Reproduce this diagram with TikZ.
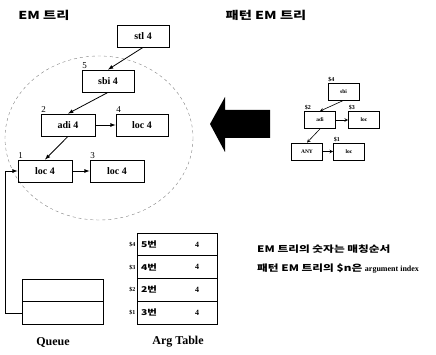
\documentclass[tikz,border=0pt]{standalone}
\usepackage{fontspec}
\setmainfont{Liberation Serif}
\newfontfamily\kr[FakeStretch=1.3]{Noto Sans CJK KR}
\usetikzlibrary{positioning}

\begin{document}
\begin{tikzpicture}[x=1pt,y=-1pt,
  emnode/.style={draw,thick,minimum width=52pt,minimum height=22pt,inner sep=0pt,font=\bfseries\fontsize{10}{10}\selectfont},
  patnode/.style={draw,thick,minimum width=31pt,minimum height=17pt,inner sep=0pt,font=\bfseries\fontsize{5.5}{5.5}\selectfont},
  rownode/.style={draw,thick,minimum width=80pt,minimum height=22.75pt,inner sep=0pt},
  order/.style={anchor=south west,inner sep=0.5pt,font=\fontsize{9}{9}\selectfont},
  argidx/.style={anchor=east,inner sep=1pt,font=\bfseries\fontsize{6}{6}\selectfont},
  link/.style={->,>=latex,thick}]
\useasboundingbox (0,0) rectangle (436,355);

% headers
\node[font=\kr\bfseries\fontsize{11}{11}\selectfont] (title1) at (44,15) {EM 트리};
\node[font=\kr\bfseries\fontsize{11}{11}\selectfont] (title2) at (266,15) {패턴 EM 트리};

% EM tree
\draw[dashed,gray,thin] (99,138) ellipse (94 and 82);
\node[emnode] (stl) at (143,36) {stl 4};
\node[emnode] (sbi) at (108,81) {sbi 4};
\node[emnode,minimum width=54pt] (adi) at (68,125) {adi 4};
\node[emnode] (loc4) at (142,125) {loc 4};
\node[emnode,minimum width=54pt] (loc1) at (45,171) {loc 4};
\node[emnode,minimum width=54pt] (loc3) at (117,171) {loc 4};
\node[order] at (sbi.north west) {5};
\node[order] at (adi.north west) {2};
\node[order] at (loc4.north west) {4};
\node[order] at (loc1.north west) {1};
\node[order] at (loc3.north west) {3};
\draw[link] (stl.south) -- (sbi.north);
\draw[link] (sbi.south) -- (adi.north);
\draw[link] (adi.south) -- (loc1.north);
\draw[link] (adi) -- (loc4);
\draw[link] (loc1) -- (loc3);

% big arrow
\fill (210,124) -- (225,97) -- (225,110) -- (270,110) -- (270,138) -- (225,138) -- (225,152) -- cycle;

% pattern EM tree
\node[patnode] (psbi) at (343.5,91.5) {sbi};
\node[patnode] (padi) at (320,120) {adi};
\node[patnode] (ploc3) at (364,120) {loc};
\node[patnode] (pany) at (307,151.5) {ANY};
\node[patnode] (ploc1) at (349,151.5) {loc};
\node[order,font=\bfseries\fontsize{6}{6}\selectfont] at (psbi.north west) {\$4};
\node[order,font=\bfseries\fontsize{6}{6}\selectfont] at (padi.north west) {\$2};
\node[order,font=\bfseries\fontsize{6}{6}\selectfont] at (ploc3.north west) {\$3};
\node[order,font=\bfseries\fontsize{6}{6}\selectfont] at (ploc1.north west) {\$1};
\draw[link,>=stealth,semithick] (psbi.south) -- (padi.north);
\draw[link,>=stealth,semithick] (padi.south) -- (pany.north);
\draw[link,>=stealth,semithick] (padi) -- (ploc3);
\draw[link,>=stealth,semithick] (pany) -- (ploc1);

% notes
\node[anchor=west,inner sep=0pt,font=\kr\bfseries\fontsize{9}{9}\selectfont] (note1) at (257,249) {EM 트리의 숫자는 매칭순서};
\node[anchor=west,inner sep=0pt,font=\kr\bfseries\fontsize{9}{9}\selectfont] (note2) at (257,269) {패턴 EM 트리의 \$n은 {\rmfamily\bfseries\fontsize{8}{8}\selectfont argument index}};

% queue
\node[rownode,minimum width=81pt] (q1) at (62.5,290.5) {};
\node[rownode,minimum width=81pt] (q2) at (62.5,313.25) {};
\draw[link] (q2.west) -- ++(-16,0) |- (loc1.west);
\node[font=\bfseries\fontsize{12}{12}\selectfont] (qlabel) at (53,342) {Queue};

% arg table
\foreach \i/\num/\y in {4/5/244.4,3/4/267.1,2/2/289.9,1/3/312.6}{
  \node[rownode] (arg\i) at (177,\y) {};
  \node[argidx] at (arg\i.west) {\$\i};
  \node[anchor=west,font=\kr\bfseries\fontsize{8}{8}\selectfont] at ([xshift=1pt]arg\i.west) {{\num}번};
  \node[font=\bfseries\fontsize{8}{8}\selectfont] at ([xshift=20pt]arg\i.center) {4};
}
\node[font=\bfseries\fontsize{12}{12}\selectfont] (alabel) at (178,342) {Arg Table};
\end{tikzpicture}
\end{document}
